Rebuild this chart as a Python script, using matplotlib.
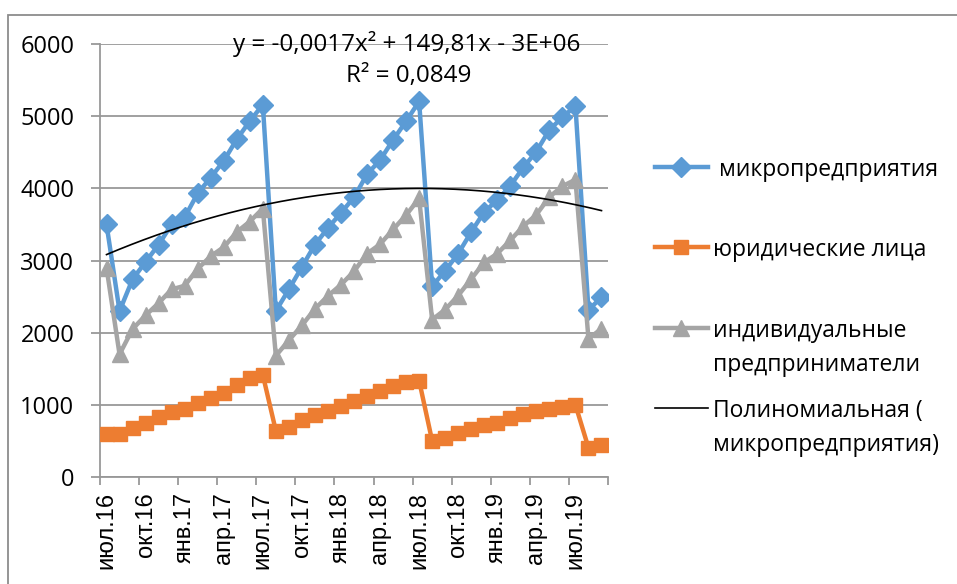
import numpy as np
import matplotlib
matplotlib.use('Agg')
import matplotlib.pyplot as plt
from matplotlib.lines import Line2D
from matplotlib.patches import Rectangle

# monthly values, июл.16 .. сен.19
micro = [3500, 2300, 2740, 2980, 3220, 3500, 3600, 3930, 4150, 4380, 4680, 4930, 5160,
         2300, 2600, 2910, 3220, 3450, 3660, 3875, 4195, 4390, 4670, 4930, 5205,
         2640, 2860, 3095, 3395, 3675, 3835, 4035, 4290, 4510, 4810, 4985, 5140,
         2315, 2490]
legal = [600, 600, 685, 755, 825, 895, 940, 1030, 1100, 1170, 1275, 1365, 1415,
         640, 695, 785, 855, 915, 985, 1055, 1125, 1185, 1255, 1310, 1335,
         500, 545, 615, 660, 715, 755, 815, 870, 915, 940, 970, 1000,
         405, 440]
indiv = [2900, 1700, 2050, 2240, 2410, 2600, 2650, 2885, 3060, 3185, 3395, 3540, 3720,
         1680, 1895, 2100, 2330, 2510, 2665, 2850, 3095, 3225, 3430, 3630, 3860,
         2180, 2320, 2515, 2745, 2975, 3095, 3280, 3475, 3635, 3880, 4030, 4120,
         1915, 2055]
tick_labels = ['июл.16', 'окт.16', 'янв.17', 'апр.17', 'июл.17', 'окт.17', 'янв.18',
               'апр.18', 'июл.18', 'окт.18', 'янв.19', 'апр.19', 'июл.19']
series_names = ['микропредприятия', 'юридические лица', 'индивидуальные\nпредприниматели',
                'Полиномиальная (\nмикропредприятия)']
eq_text = 'y = -0,0017x² + 149,81x - 3E+06'
r2_text = 'R² = 0,0849'

BLUE = '#5B9BD5'
ORANGE = '#ED7D31'
GREY = '#A5A5A5'
GRID = '#989898'
FONT = ['Open Sans', 'DejaVu Sans']

W, H = 957, 584
fig = plt.figure(figsize=(W / 100, H / 100), dpi=100)
ax = fig.add_axes([100 / W, 1 - 477 / H, 508 / W, 433 / H])

x = np.arange(len(micro))
ax.plot(x, micro, color=BLUE, lw=3.2, marker='D', ms=10, zorder=3)
ax.plot(x, legal, color=ORANGE, lw=3.2, marker='s', ms=10.5, zorder=3)
ax.plot(x, indiv, color=GREY, lw=3.2, marker='^', ms=12, zorder=3)

# polynomial trendline (order 2) of micro
coef = np.polyfit(x, micro, 2)
xf = np.linspace(x[0], x[-1], 200)
ax.plot(xf, np.polyval(coef, xf), color='black', lw=1.2, zorder=4)

ax.set_xlim(-0.5, len(micro) - 0.5)
ax.set_ylim(0, 6000)
ax.set_yticks(np.arange(0, 6001, 1000))
ax.yaxis.grid(True, color=GRID, lw=1.3)
ax.set_axisbelow(True)

ax.set_xticks(np.arange(-0.5, len(micro), 3))
ax.set_xticklabels([])
ax.set_xticks(np.arange(0, len(micro), 3), minor=True)
ax.set_xticklabels(tick_labels, minor=True, rotation=90, family=['Liberation Sans', 'DejaVu Sans'],
                   fontsize=17)
ax.tick_params(axis='x', which='major', length=6, color=GRID, width=1.3)
ax.tick_params(axis='x', which='minor', length=0, pad=11)
ax.tick_params(axis='y', length=6.5, color=GRID, width=1.3, pad=12, labelsize=17)
for lab in ax.get_yticklabels():
    lab.set_family(FONT)

for s in ['top', 'right']:
    ax.spines[s].set_visible(False)
for s in ['left', 'bottom']:
    ax.spines[s].set_color(GRID)
    ax.spines[s].set_linewidth(1.3)

# trendline equation
fig.text(407 / W, 1 - 44 / H, eq_text, ha='center', va='center', fontsize=17.5, family=FONT)
fig.text(409 / W, 1 - 76 / H, r2_text, ha='center', va='center', fontsize=17.5, family=FONT)

# legend
leg_items = [
    (167, dict(color=BLUE, lw=3.2, marker='D', ms=10), ' ' + series_names[0]),
    (247, dict(color=ORANGE, lw=3.2, marker='s', ms=10.5), series_names[1]),
    (328, dict(color=GREY, lw=3.2, marker='^', ms=12), series_names[2]),
    (408, dict(color='black', lw=1.2), series_names[3]),
]
for yy, style, name in leg_items:
    fig.add_artist(Line2D([655 / W, 708 / W], [1 - yy / H, 1 - yy / H],
                          transform=fig.transFigure, color=style['color'], lw=style['lw']))
    if 'marker' in style:
        fig.add_artist(Line2D([681 / W], [1 - yy / H], transform=fig.transFigure, ls='none',
                              marker=style['marker'], ms=style['ms'], color=style['color']))
    fig.text(713 / W, 1 - (yy - 9) / H, name, ha='left', va='top', fontsize=16.5,
             family=FONT, linespacing=1.55)

# chart area border
fig.add_artist(Rectangle((8 / W, -0.1), 1.2, 1 - 15 / H + 0.1, transform=fig.transFigure,
                         fill=False, edgecolor='#8c8c8c', lw=1.3))

fig.savefig('out.png', dpi=100)
